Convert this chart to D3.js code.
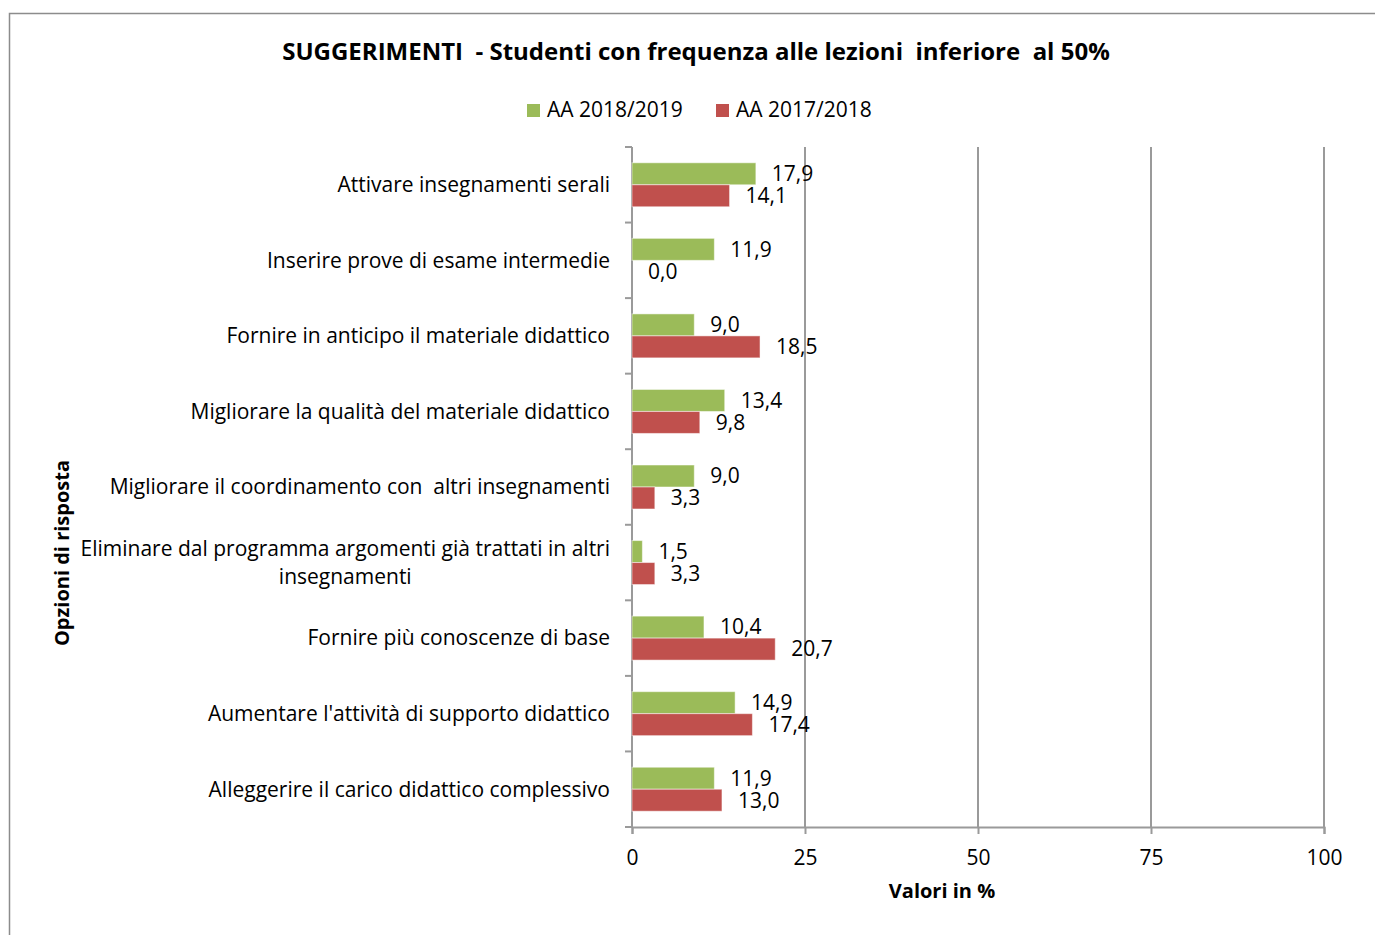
<!DOCTYPE html>
<html>
<head>
<meta charset="utf-8">
<script src="https://cdn.jsdelivr.net/npm/d3@7"></script>
<style>
  html, body { margin: 0; padding: 0; background: #fff; }
  svg { display: block; font-family: "Open Sans", sans-serif; font-variant-ligatures: none; }
  text { white-space: pre; }
</style>
</head>
<body>
<svg id="chart" width="1375" height="935"></svg>
<script>
// Response options (top to bottom)
const categories = [
  "Attivare insegnamenti serali",
  "Inserire prove di esame intermedie",
  "Fornire in anticipo il materiale didattico",
  "Migliorare la qualità del materiale didattico",
  "Migliorare il coordinamento con  altri insegnamenti",
  "Eliminare dal programma argomenti già trattati in altri|insegnamenti",
  "Fornire più conoscenze di base",
  "Aumentare l'attività di supporto didattico",
  "Alleggerire il carico didattico complessivo"
];
const seriesNames = ["AA 2018/2019", "AA 2017/2018"];
const values2018_19 = [17.9, 11.9, 9.0, 13.4, 9.0, 1.5, 10.4, 14.9, 11.9];
const values2017_18 = [14.1, 0.0, 18.5, 9.8, 3.3, 3.3, 20.7, 17.4, 13.0];
const xTicks = [0, 25, 50, 75, 100];
const colors = ["#9BBB59", "#C0504D"];

const FS = 21;
const svg = d3.select("#chart");
const W = 1375, H = 935;
const plot = { left: 632, right: 1324, top: 147, bottom: 827 };
const axisColor = "#9a9a9a";

// outer frame of the chart area
svg.append("path")
  .attr("d", `M9.5,${H} V13.5 H${W}`)
  .attr("fill", "none").attr("stroke", "#8c8c8c").attr("stroke-width", 1.5);

const x = d3.scaleLinear().domain([0, 100]).range([plot.left, plot.right]);
const y = d3.scaleBand().domain(categories).range([plot.top, plot.bottom]).paddingInner(0.418).paddingOuter(0.209);
const yGroup = d3.scaleBand().domain(categories).range([plot.top, plot.bottom]);
const sub = d3.scaleBand().domain([0, 1]).range([0, y.bandwidth()]);

// vertical gridlines
svg.append("g").selectAll("line").data(xTicks.filter(t => t > 0)).join("line")
  .attr("x1", d => x(d)).attr("x2", d => x(d))
  .attr("y1", plot.top).attr("y2", plot.bottom)
  .attr("stroke", axisColor).attr("stroke-width", 2);

// x axis
const xAxis = svg.append("g").attr("transform", `translate(0,${plot.bottom})`)
  .call(d3.axisBottom(x).tickValues(xTicks).tickSize(7).tickPadding(16).tickFormat(d3.format("d")));
xAxis.select(".domain").attr("stroke", axisColor).attr("stroke-width", 2);
xAxis.selectAll(".tick line").attr("stroke", axisColor).attr("stroke-width", 2);
xAxis.selectAll(".tick text").attr("font-size", FS).attr("fill", "#000").attr("font-family", "Open Sans");

// y axis (ticks at category boundaries)
const bounds = categories.map(c => yGroup(c)).concat([plot.bottom]);
const yAxisG = svg.append("g");
yAxisG.append("line").attr("x1", plot.left).attr("x2", plot.left)
  .attr("y1", plot.top).attr("y2", plot.bottom)
  .attr("stroke", axisColor).attr("stroke-width", 2);
yAxisG.selectAll("line.tk").data(bounds).join("line").attr("class", "tk")
  .attr("x1", plot.left - 7).attr("x2", plot.left)
  .attr("y1", d => d).attr("y2", d => d)
  .attr("stroke", axisColor).attr("stroke-width", 2);

// category labels
const labelRight = 610;
categories.forEach(c => {
  const lines = c.split("|");
  const cy = yGroup(c) + yGroup.bandwidth() / 2;
  const g = svg.append("g");
  const lh = 28;
  const texts = lines.map((l, i) => g.append("text")
    .attr("y", cy + (i - (lines.length - 1) / 2) * lh)
    .attr("dy", "0.35em")
    .attr("font-size", FS).attr("fill", "#000")
    .text(l));
  if (lines.length === 1) {
    texts[0].attr("x", labelRight).attr("text-anchor", "end");
  } else {
    const maxW = d3.max(texts, t => t.node().getComputedTextLength());
    texts.forEach(t => t.attr("x", labelRight - maxW / 2).attr("text-anchor", "middle"));
  }
});

// bars and value labels
const series = [values2018_19, values2017_18];
const fmt = v => v.toFixed(1).replace(".", ",");
series.forEach((vals, si) => {
  const g = svg.append("g");
  g.selectAll("rect").data(vals).join("rect")
    .attr("x", x(0))
    .attr("y", (d, i) => y(categories[i]) + sub(si))
    .attr("width", d => x(d) - x(0))
    .attr("height", sub.bandwidth())
    .attr("fill", colors[si])
    .attr("stroke", "#ffffff").attr("stroke-opacity", 0.5).attr("stroke-width", 1);
  g.selectAll("text").data(vals).join("text")
    .attr("x", d => x(d) + 16)
    .attr("y", (d, i) => y(categories[i]) + sub(si) + sub.bandwidth() / 2)
    .attr("dy", "0.35em")
    .attr("font-size", FS).attr("fill", "#000")
    .text(d => fmt(d));
});

// title
svg.append("text").attr("x", 696).attr("y", 52).attr("dy", "0.35em")
  .attr("text-anchor", "middle").attr("font-size", 24).attr("font-weight", "bold")
  .text("SUGGERIMENTI  - Studenti con frequenza alle lezioni  inferiore  al 50%");

// legend
const legendItems = [{ x: 527, name: seriesNames[0], c: colors[0] }, { x: 716, name: seriesNames[1], c: colors[1] }];
legendItems.forEach(it => {
  svg.append("rect").attr("x", it.x).attr("y", 104).attr("width", 13).attr("height", 13).attr("fill", it.c);
  svg.append("text").attr("x", it.x + 20).attr("y", 110).attr("dy", "0.35em")
    .attr("font-size", FS).text(it.name);
});

// axis titles
svg.append("text").attr("x", 942).attr("y", 891).attr("dy", "0.35em")
  .attr("text-anchor", "middle").attr("font-size", 20).attr("font-weight", "bold")
  .text("Valori in %");
svg.append("text").attr("transform", "translate(62,553) rotate(-90)").attr("dy", "0.35em")
  .attr("text-anchor", "middle").attr("font-size", 20).attr("font-weight", "bold")
  .text("Opzioni di risposta");
</script>
</body>
</html>
